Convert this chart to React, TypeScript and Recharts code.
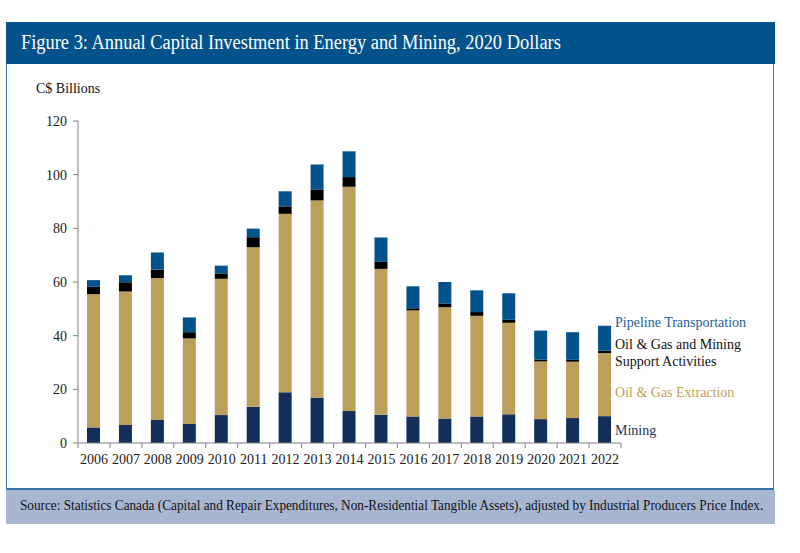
import React from "react";
import { BarChart, Bar, XAxis, YAxis } from "recharts";

// categories
const years = [
  "2006", "2007", "2008", "2009", "2010", "2011", "2012", "2013", "2014",
  "2015", "2016", "2017", "2018", "2019", "2020", "2021", "2022",
];

// C$ billions, 2020 dollars
const mining = [5.8, 6.7, 8.6, 7.1, 10.4, 13.5, 18.9, 16.9, 11.9, 10.5, 9.9, 9.1, 9.9, 10.7, 8.9, 9.3, 10.0];
const extraction = [49.7, 49.8, 52.9, 31.9, 50.8, 59.5, 66.5, 73.5, 83.6, 54.4, 39.5, 41.5, 37.5, 34.1, 21.5, 21.0, 23.5];
const support = [2.7, 3.4, 3.1, 2.3, 2.0, 3.7, 2.8, 4.1, 3.6, 2.6, 0.8, 1.4, 1.4, 1.1, 0.7, 0.7, 0.9];
const pipeline = [2.5, 2.6, 6.4, 5.5, 2.9, 3.2, 5.6, 9.3, 9.6, 9.1, 8.2, 8.0, 8.1, 9.9, 10.8, 10.3, 9.3];

const yTicks = [0, 20, 40, 60, 80, 100, 120];

const series = [
  { key: "mining", name: "Mining", color: "#132e5a", text: "#1b3560" },
  { key: "extraction", name: "Oil & Gas Extraction", color: "#bd9f5b", text: "#bf9f5a" },
  { key: "support", name: "Oil & Gas and Mining Support Activities", color: "#000000", text: "#111111" },
  { key: "pipeline", name: "Pipeline Transportation", color: "#02528c", text: "#1c5e96" },
];

const data = years.map((year, i) => ({
  year,
  mining: mining[i],
  extraction: extraction[i],
  support: support[i],
  pipeline: pipeline[i],
}));

const FONT = "'Liberation Serif', 'DejaVu Serif', serif";

const CHART_W = 800;
const CHART_H = 553;
const MARGIN = { top: 121, right: 179, bottom: 80, left: 38 };
const Y_W = 40;
const HALF_BAND = (CHART_W - MARGIN.left - Y_W - MARGIN.right) / years.length / 2;

const YearTick = (props: any) => {
  const { x, y, payload, index } = props;
  return (
    <g>
      <line x1={x - HALF_BAND} x2={x - HALF_BAND} y1={y} y2={y + 5} stroke="#808080" />
      {index === years.length - 1 && (
        <line x1={x + HALF_BAND} x2={x + HALF_BAND} y1={y} y2={y + 5} stroke="#808080" />
      )}
      <text x={x} y={y + 21} textAnchor="middle" fontSize={14} fill="#1a1a1a" fontFamily={FONT}>
        {payload.value}
      </text>
    </g>
  );
};

// legend label positions (text centre, px from top)
const legendY: Record<string, number> = {
  pipeline: 322,
  support: 353,
  extraction: 392,
  mining: 430,
};

export default function App() {
  return (
    <div
      style={{
        position: "absolute",
        left: 0,
        top: 0,
        width: 800,
        height: 553,
        background: "#fff",
        fontFamily: FONT,
      }}
    >
      <div
        style={{
          position: "absolute",
          left: 6,
          top: 22,
          width: 769,
          height: 42,
          background: "#03528b",
        }}
      >
        <div
          style={{
            position: "absolute",
            left: 15,
            top: 9,
            color: "#fff",
            fontSize: 20,
            whiteSpace: "nowrap",
            transform: "scaleX(0.92)",
            transformOrigin: "left center",
          }}
        >
          Figure 3: Annual Capital Investment in Energy and Mining, 2020 Dollars
        </div>
      </div>
      <div
        style={{
          position: "absolute",
          left: 6,
          top: 64,
          width: 766,
          height: 424,
          borderLeft: "1.5px solid #3572ab",
          borderRight: "1.5px solid #3572ab",
          borderBottom: "2px solid #3572ab",
        }}
      />
      <div
        style={{
          position: "absolute",
          left: 6,
          top: 490,
          width: 769,
          height: 34,
          background: "#a8b6d2",
        }}
      >
        <div
          style={{
            position: "absolute",
            left: 14,
            top: 8,
            fontSize: 14,
            color: "#111",
            whiteSpace: "nowrap",
            transform: "scaleX(0.945)",
            transformOrigin: "left center",
          }}
        >
          Source: Statistics Canada (Capital and Repair Expenditures, Non-Residential Tangible Assets), adjusted by Industrial Producers Price Index.
        </div>
      </div>
      <div style={{ position: "absolute", left: 36, top: 81, fontSize: 14, color: "#111" }}>
        C$ Billions
      </div>

      <div style={{ position: "absolute", left: 0, top: 0 }}>
        <BarChart width={CHART_W} height={CHART_H} data={data} margin={MARGIN} barSize={13}>
          <XAxis
            dataKey="year"
            axisLine={{ stroke: "#808080" }}
            tickLine={false}
            tickSize={0}
            tickMargin={0}
            height={30}
            interval={0}
            tick={<YearTick />}
          />
          <YAxis
            width={Y_W}
            domain={[0, 120]}
            ticks={yTicks}
            axisLine={{ stroke: "#808080" }}
            tickLine={{ stroke: "#808080" }}
            tickSize={5}
            tickMargin={6}
            tick={{ fontSize: 14, fill: "#1a1a1a", fontFamily: FONT }}
          />
          {series.map((s) => (
            <Bar
              key={s.key}
              dataKey={s.key}
              name={s.name}
              stackId="a"
              fill={s.color}
              isAnimationActive={false}
            />
          ))}
        </BarChart>
      </div>

      {series.map((s) => (
        <div
          key={s.key}
          style={{
            position: "absolute",
            left: 615,
            top: legendY[s.key],
            transform: "translateY(-50%)",
            width: 150,
            fontSize: 14,
            lineHeight: "17px",
            color: s.text,
          }}
        >
          {s.name}
        </div>
      ))}
    </div>
  );
}
